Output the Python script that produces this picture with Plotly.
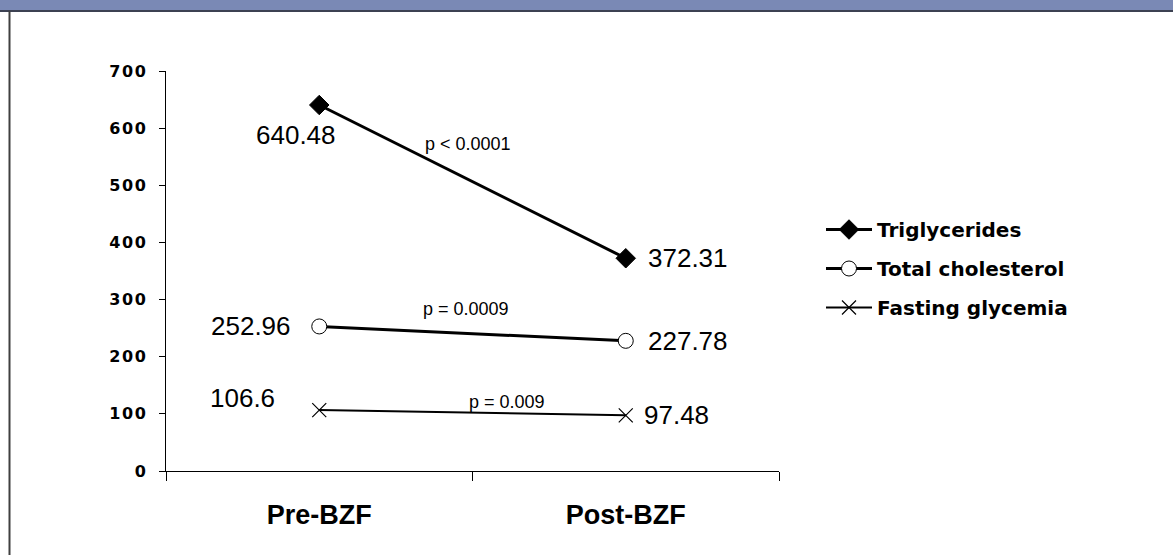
import plotly.graph_objects as go

# ---- data ----
periods = ["Pre-BZF", "Post-BZF"]
triglycerides = [640.48, 372.31]
total_cholesterol = [252.96, 227.78]
fasting_glycemia = [106.6, 97.48]
series_names = ["Triglycerides", "Total cholesterol", "Fasting glycemia"]
p_values = ["p < 0.0001", "p = 0.0009", "p = 0.009"]
y_ticks = [0, 100, 200, 300, 400, 500, 600, 700]

W, H = 1173, 555
L, R, T, B = 166, 394, 71, 84
PW, PH = W - L - R, H - T - B


def pxx(px):
    return (px - L) / PW


def pxy(py):
    return (H - B - py) / PH


FONT = "Liberation Sans, Arial, sans-serif"
WIDE = "DejaVu Sans, Verdana, sans-serif"

fig = go.Figure()

styles = [
    dict(symbol="diamond", size=15, color="black", line=dict(color="black", width=1)),
    dict(symbol="circle", size=15, color="white", line=dict(color="black", width=1)),
    dict(symbol="x-thin", size=14, color="black", line=dict(color="black", width=1.2)),
]
widths = [3, 3, 2]
all_series = [triglycerides, total_cholesterol, fasting_glycemia]

for i, (name, vals) in enumerate(zip(series_names, all_series)):
    fig.add_trace(go.Scatter(
        x=periods, y=vals, name=name, mode="lines+markers",
        line=dict(color="black", width=widths[i]),
        marker=styles[i], legendgroup=name, cliponaxis=False,
    ))

# value labels (shifts in pixels)
label_shifts = [
    [(-23, -30), (62, 0)],
    [(-68, 0), (62, 0)],
    [(-77, 12), (51, 0)],
]
for vals, shifts in zip(all_series, label_shifts):
    for cat, v, (dx, dy) in zip(periods, vals, shifts):
        fig.add_annotation(x=cat, y=v, text=f"{v:g}", showarrow=False,
                           xshift=dx, yshift=dy,
                           font=dict(family=FONT, size=26, color="black"))

# p-value labels placed at mid-segment
p_shifts = [(-5, 38), (-7, 25), (34, 11)]
for vals, p, (dx, dy) in zip(all_series, p_values, p_shifts):
    fig.add_annotation(x=0.5, y=(vals[0] + vals[1]) / 2, xref="x", yref="y",
                       text=p, showarrow=False, xshift=dx, yshift=dy,
                       font=dict(family=FONT, size=18, color="black"))

# frame decorations
fig.add_shape(type="rect", xref="paper", yref="paper",
              x0=pxx(0), x1=pxx(W), y0=pxy(10), y1=pxy(0),
              fillcolor="#7A89B5", line=dict(width=0), layer="below")
fig.add_shape(type="line", xref="paper", yref="paper",
              x0=pxx(0), x1=pxx(W), y0=pxy(11), y1=pxy(11),
              line=dict(color="#3C4152", width=2))
fig.add_shape(type="line", xref="paper", yref="paper",
              x0=pxx(9.5), x1=pxx(9.5), y0=pxy(H), y1=pxy(11),
              line=dict(color="#404040", width=2))

fig.update_layout(
    width=W, height=H,
    margin=dict(l=L, r=R, t=T, b=B),
    paper_bgcolor="white", plot_bgcolor="white",
    showlegend=True,
    legend=dict(x=pxx(821), y=pxy(210), xanchor="left", yanchor="top",
                font=dict(family=WIDE, size=20, color="black", weight="bold"),
                traceorder="grouped", tracegroupgap=10,
                bgcolor="rgba(0,0,0,0)", itemwidth=46),
    xaxis=dict(type="category", range=[-0.5, 1.5], showgrid=False,
               showline=True, linecolor="black", linewidth=1,
               ticks="outside", ticklen=9, tickcolor="black", tickson="boundaries",
               tickfont=dict(family=FONT, size=27, color="black", weight="bold"),
               ticklabelstandoff=20, zeroline=False),
    yaxis=dict(range=[0, 700], showgrid=False, showline=True,
               linecolor="black", linewidth=1, ticks="outside", ticklen=6,
               tickcolor="black", tickvals=y_ticks,
               ticktext=["\u200a".join(str(v)) for v in y_ticks],
               tickfont=dict(family=WIDE, size=16, color="black", weight="bold"),
               ticklabelstandoff=10, zeroline=False),
)

fig.write_html("out.html",
               config={"displayModeBar": False},
               post_script="document.body.style.margin='0px';"
                           "document.body.style.overflow='hidden';")
